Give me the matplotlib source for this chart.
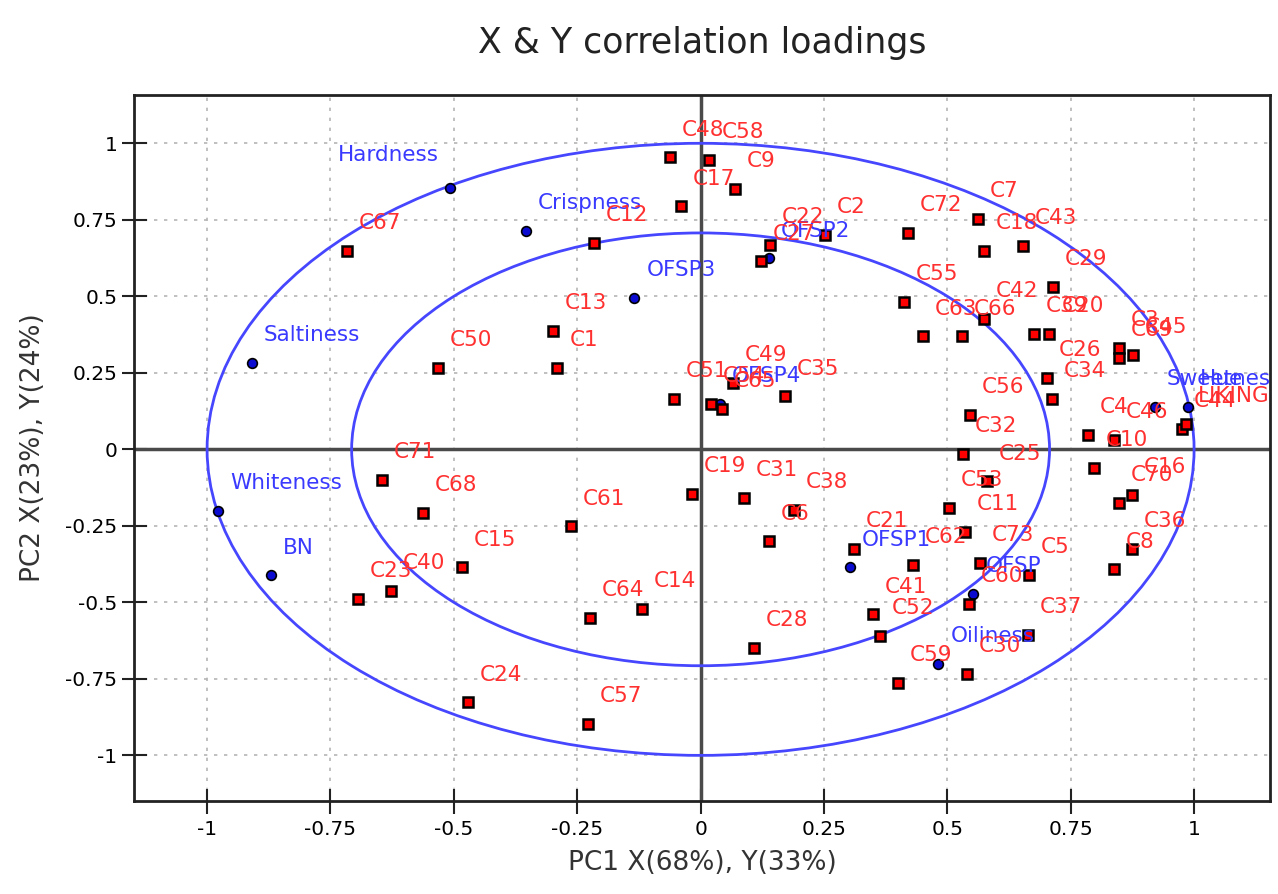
import numpy as np
import matplotlib
matplotlib.use("Agg")
import matplotlib.pyplot as plt
from matplotlib.patches import Ellipse

# red loadings (samples / X variables)
red_labels = ['C48', 'C58', 'C9', 'C17', 'C12', 'C67', 'C22', 'C27', 'C2', 'C72',
              'C7', 'C18', 'C43', 'C29', 'C55', 'C63', 'C66', 'C42', 'C39', 'C20',
              'C3', 'C69', 'C45', 'C13', 'C1', 'C50', 'C51', 'C54', 'C65', 'C49',
              'C35', 'C26', 'C34', 'C56', 'C32', 'C4', 'C46', 'C10', 'C44', 'LIKING',
              'C25', 'C53', 'C11', 'C16', 'C70', 'C36', 'C8', 'C73', 'C62', 'C21',
              'C5', 'C60', 'C37', 'C30', 'C59', 'C52', 'C41', 'C28', 'C19', 'C31',
              'C38', 'C6', 'C61', 'C71', 'C68', 'C15', 'C40', 'C23', 'C24', 'C64',
              'C14', 'C57']
red_pc1 = [-0.062, 0.018, 0.070, -0.040, -0.217, -0.717, 0.141, 0.123, 0.252, 0.421,
           0.562, 0.575, 0.654, 0.715, 0.413, 0.451, 0.530, 0.575, 0.676, 0.707,
           0.847, 0.847, 0.877, -0.299, -0.290, -0.533, -0.054, 0.021, 0.043, 0.065,
           0.171, 0.702, 0.712, 0.545, 0.531, 0.785, 0.838, 0.798, 0.975, 0.984,
           0.580, 0.504, 0.536, 0.874, 0.847, 0.874, 0.838, 0.566, 0.430, 0.310,
           0.666, 0.544, 0.664, 0.539, 0.400, 0.364, 0.350, 0.109, -0.018, 0.088,
           0.189, 0.139, -0.263, -0.646, -0.563, -0.484, -0.628, -0.695, -0.471, -0.224,
           -0.119, -0.229]
red_pc2 = [0.954, 0.946, 0.852, 0.794, 0.674, 0.649, 0.668, 0.614, 0.701, 0.708,
           0.752, 0.649, 0.666, 0.530, 0.482, 0.369, 0.369, 0.426, 0.376, 0.376,
           0.331, 0.298, 0.309, 0.388, 0.265, 0.267, 0.164, 0.149, 0.131, 0.216,
           0.173, 0.233, 0.164, 0.113, -0.015, 0.047, 0.031, -0.061, 0.066, 0.082,
           -0.105, -0.192, -0.269, -0.149, -0.174, -0.326, -0.392, -0.370, -0.378, -0.326,
           -0.410, -0.506, -0.606, -0.735, -0.762, -0.609, -0.539, -0.650, -0.146, -0.158,
           -0.198, -0.301, -0.252, -0.100, -0.207, -0.386, -0.462, -0.489, -0.827, -0.550,
           -0.522, -0.897]

# blue loadings (sensory / Y variables)
blue_labels = ['Hardness', 'Crispness', 'OFSP3', 'OFSP2', 'Saltiness', 'Whiteness',
               'BN', 'OFSP4', 'OFSP1', 'OFSP', 'Oiliness', 'Sweetness', 'Hue']
blue_pc1 = [-0.508, -0.354, -0.134, 0.138, -0.909, -0.977,
            -0.871, 0.040, 0.303, 0.553, 0.482, 0.921, 0.988]
blue_pc2 = [0.854, 0.714, 0.496, 0.624, 0.282, -0.201,
            -0.412, 0.149, -0.386, -0.473, -0.702, 0.138, 0.138]

tick_values = [-1, -0.75, -0.5, -0.25, 0, 0.25, 0.5, 0.75, 1]
tick_labels = ['-1', '-0.75', '-0.5', '-0.25', '0', '0.25', '0.5', '0.75', '1']

# label offsets in points (default is up and to the right of the point)
default_offset = (8.5, 20)
label_offsets = {'Hardness': (-81, 24)}

RED = '#ff0000'
RED_TXT = '#ff3030'
BLUE = '#0a0ad0'
BLUE_TXT = '#3a3aff'
ELL = '#4646ff'


def add_labels(ax, names, xs, ys, color):
    for name, x, y in zip(names, xs, ys):
        off = label_offsets.get(name, default_offset)
        ax.annotate(name, (x, y), xytext=off, textcoords='offset points',
                    ha='left', va='center', fontsize=15.5, color=color,
                    annotation_clip=False, clip_on=True, zorder=6)


def main():
    fig = plt.figure(figsize=(12.78, 8.94), dpi=100)
    ax = fig.add_axes([0.1049, 0.1044, 0.8889, 0.7894])

    ax.set_xlim(-1.148, 1.154)
    ax.set_ylim(-1.148, 1.158)

    ax.set_xticks(tick_values)
    ax.set_xticklabels(tick_labels, fontsize=14.5)
    ax.set_yticks(tick_values)
    ax.set_yticklabels(tick_labels, fontsize=14.5)
    ax.tick_params(axis='both', direction='inout', length=18, width=1.5, color='#222222')
    ax.tick_params(axis='x', pad=5)
    ax.tick_params(axis='y', pad=3)
    ax.grid(True, linestyle=(0, (2, 4)), color='#b5b5b5', linewidth=1.2)
    ax.set_axisbelow(True)

    for sp in ax.spines.values():
        sp.set_linewidth(2)
        sp.set_color('#222222')

    ax.axhline(0, color='#4a4a4a', linewidth=2.5, zorder=1)
    ax.axvline(0, color='#4a4a4a', linewidth=2.5, zorder=1)

    for r in [1.0, np.sqrt(0.5)]:
        ax.add_patch(Ellipse((0, 0), 2 * r, 2 * r, fill=False, edgecolor=ELL,
                             linewidth=2, zorder=2))

    ax.plot(blue_pc1, blue_pc2, 'o', markersize=7, markerfacecolor=BLUE,
            markeredgecolor='black', markeredgewidth=1.2, zorder=3)
    ax.plot(red_pc1, red_pc2, 's', markersize=7, markerfacecolor=RED,
            markeredgecolor='black', markeredgewidth=1.8, zorder=4)

    add_labels(ax, blue_labels, blue_pc1, blue_pc2, BLUE_TXT)
    add_labels(ax, red_labels, red_pc1, red_pc2, RED_TXT)

    ax.set_title('X & Y correlation loadings', fontsize=25, pad=30, color='#222222')
    ax.set_xlabel('PC1 X(68%), Y(33%)', fontsize=19, labelpad=8, color='#333333')
    ax.set_ylabel('PC2 X(23%), Y(24%)', fontsize=19, labelpad=14, color='#333333')

    fig.savefig('out.png', dpi=100)


if __name__ == "__main__":
    main()
